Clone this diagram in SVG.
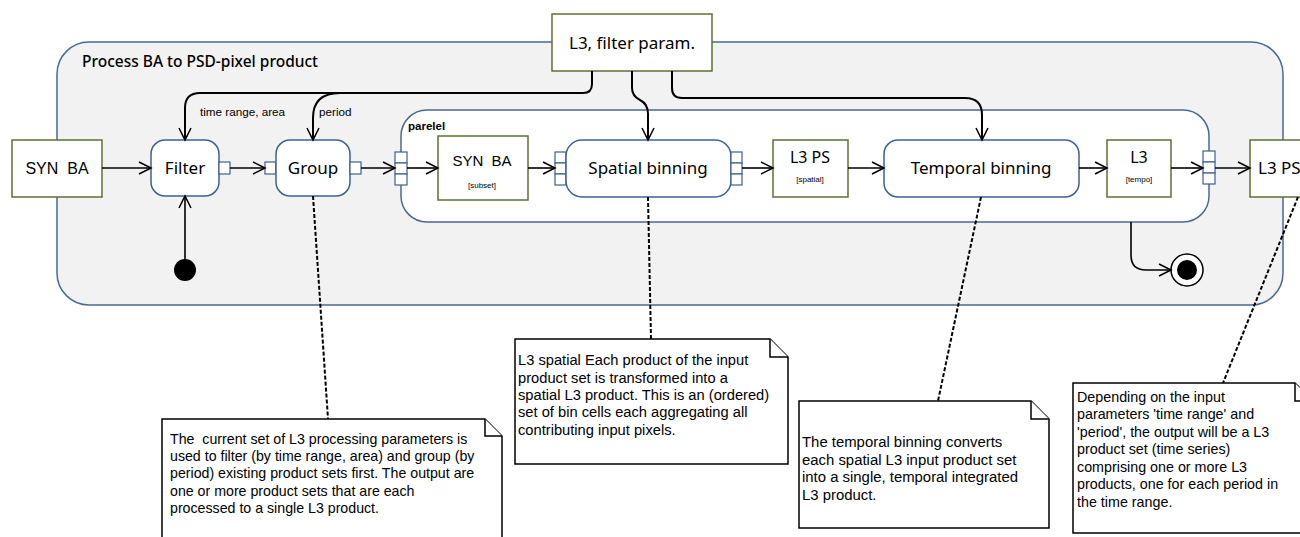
<svg xmlns="http://www.w3.org/2000/svg" width="1300" height="537" viewBox="0 0 1300 537">
<defs>
<marker id="arr" markerUnits="userSpaceOnUse" markerWidth="16" markerHeight="14" refX="13" refY="7" orient="auto">
<path d="M1,1 L13,7 L1,13" fill="none" stroke="#000" stroke-width="1.5"/>
</marker>
<style>
.cont{fill:#f2f2f2;stroke:#4a6a94;stroke-width:1.5}
.region{fill:#fff;stroke:#4a6a94;stroke-width:1.5}
.act{fill:#fff;stroke:#3f6091;stroke-width:1.5}
.obj{fill:#fff;stroke:#5d7033;stroke-width:1.5}
.pin{fill:#fff;stroke:#3f6091;stroke-width:1.2}
.flow{fill:none;stroke:#000;stroke-width:1.6;marker-end:url(#arr)}
.flowthick{fill:none;stroke:#000;stroke-width:2;marker-end:url(#arr)}
.anchor{fill:none;stroke:#000;stroke-width:2;stroke-dasharray:4 2}
.note{fill:#fff;stroke:#000;stroke-width:1.5}
.lbl{font-family:"Noto Sans","Open Sans",sans-serif;fill:#000;text-anchor:middle}
.small{font-family:"Liberation Sans",Arial,sans-serif;fill:#000}
.ntxt{font-family:"Liberation Sans",Arial,sans-serif;fill:#000}
</style>
</defs>

<g id="container">
<rect class="cont" x="57" y="42" width="1226" height="263" rx="32"/>
<text x="82" y="67" font-family="Noto Sans,sans-serif" font-size="15.5" font-weight="500">Process BA to PSD-pixel product</text>
</g>

<g id="parallel-region">
<rect class="region" x="401" y="110" width="808" height="112" rx="26"/>
<text x="408" y="130" class="small" font-size="11.5" font-weight="bold">parelel</text>
</g>

<g id="l3-filter-param">
<rect class="obj" x="552" y="14" width="160" height="57"/>
<text class="lbl" x="632" y="49" font-size="17">L3, filter param.</text>
</g>

<g id="syn-ba-in">
<rect class="obj" x="12" y="140" width="90" height="57"/>
<text x="57" y="174" class="small" font-size="16" text-anchor="middle" xml:space="preserve">SYN  BA</text>
</g>

<g id="filter">
<rect class="act" x="151" y="140" width="68" height="56" rx="14"/>
<text class="lbl" x="185" y="174" font-size="17">Filter</text>
<rect class="pin" x="219" y="162" width="11" height="12"/>
</g>

<g id="group">
<rect class="pin" x="265" y="162" width="11" height="12"/>
<rect class="act" x="276" y="140" width="74" height="56" rx="14"/>
<text class="lbl" x="313" y="174" font-size="17">Group</text>
<rect class="pin" x="350" y="162" width="11" height="12"/>
</g>

<g id="region-in-pin">
<rect class="pin" x="395" y="152" width="12" height="11"/>
<rect class="pin" x="395" y="163" width="12" height="11"/>
<rect class="pin" x="395" y="174" width="12" height="11"/>
</g>

<g id="syn-ba-subset">
<rect class="obj" x="438" y="136" width="90" height="64"/>
<text x="482" y="166" class="small" font-size="15" text-anchor="middle" xml:space="preserve">SYN  BA</text>
<text x="482" y="188" class="small" font-size="8" text-anchor="middle">[subset]</text>
</g>

<g id="spatial-binning">
<rect class="pin" x="555" y="152" width="11" height="11"/>
<rect class="pin" x="555" y="163" width="11" height="11"/>
<rect class="pin" x="555" y="174" width="11" height="11"/>
<rect class="act" x="566" y="140" width="165" height="57" rx="16"/>
<text class="lbl" x="648" y="174" font-size="17">Spatial binning</text>
<rect class="pin" x="731" y="152" width="11" height="11"/>
<rect class="pin" x="731" y="163" width="11" height="11"/>
<rect class="pin" x="731" y="174" width="11" height="11"/>
</g>

<g id="l3-ps-spatial">
<rect class="obj" x="773" y="140" width="75" height="57"/>
<text class="lbl" x="810" y="163" font-size="16">L3 PS</text>
<text x="810" y="182" class="small" font-size="8" text-anchor="middle">[spatial]</text>
</g>

<g id="temporal-binning">
<rect class="act" x="884" y="140" width="195" height="57" rx="14"/>
<text class="lbl" x="981" y="174" font-size="17">Temporal binning</text>
</g>

<g id="l3-tempo">
<rect class="obj" x="1107" y="140" width="64" height="57"/>
<text class="lbl" x="1139" y="163" font-size="16">L3</text>
<text x="1139" y="182" class="small" font-size="8" text-anchor="middle">[tempo]</text>
</g>

<g id="region-out-pin">
<rect class="pin" x="1203" y="151" width="12" height="11"/>
<rect class="pin" x="1203" y="162" width="12" height="11"/>
<rect class="pin" x="1203" y="173" width="12" height="11"/>
</g>

<g id="l3-ps-out">
<rect class="obj" x="1250" y="140" width="70" height="57"/>
<text x="1258" y="174" font-family="Noto Sans,sans-serif" font-size="17">L3 PS</text>
</g>

<g id="initial-node">
<circle cx="185" cy="270" r="11" fill="#000"/>
</g>

<g id="final-node">
<circle cx="1187" cy="270" r="16" fill="#fff" stroke="#000" stroke-width="1.5"/>
<circle cx="1187" cy="270" r="10" fill="#000"/>
</g>

<g id="connectors">
<path class="flowthick" d="M592,71 V84 Q592,93 583,93 H200 Q185,93 185,108 V140"/>
<path class="flowthick" d="M340,93 Q313,93 313,118 V140"/>
<path class="flowthick" d="M632,71 V88 Q632,96 640,100 Q648,104 648,114 V140"/>
<path class="flowthick" d="M672,71 V88 Q672,98 682,98 H965 Q982,98 982,115 V140"/>
<path class="flow" d="M102,168 H151"/>
<path class="flow" d="M230,168 H265"/>
<path class="flow" d="M361,168 H395"/>
<path class="flow" d="M407,168 H438"/>
<path class="flow" d="M528,168 H555"/>
<path class="flow" d="M742,168 H773"/>
<path class="flow" d="M848,168 H884"/>
<path class="flow" d="M1079,168 H1107"/>
<path class="flow" d="M1171,168 H1203"/>
<path class="flow" d="M1215,168 H1250"/>
<path class="flow" d="M185,259 V196"/>
<path class="flow" d="M1131,222 V255 Q1131,270 1146,270 H1171"/>
<path class="anchor" d="M313,196 L328,419"/>
<path class="anchor" d="M648,197 L651,339"/>
<path class="anchor" d="M981,197 L938,401"/>
<path class="anchor" d="M1298,197 L1223,383"/>
</g>

<g id="note-group">
<path class="note" d="M162,545 V419 H485 L502,436 V545"/>
<path class="note" d="M485,419 V436 H502" fill="none"/>
<text class="ntxt" font-size="14.2" xml:space="preserve"><tspan x="170" y="444">The  current set of L3 processing parameters is</tspan><tspan x="170" y="461">used to filter (by time range, area) and group (by</tspan><tspan x="170" y="478">period) existing product sets first. The output are</tspan><tspan x="170" y="496">one or more product sets that are each</tspan><tspan x="170" y="513">processed to a single L3 product.</tspan></text>
</g>

<g id="note-spatial">
<path class="note" d="M515,339 H770 L788,357 V464 H515 Z"/>
<path class="note" d="M770,339 V357 H788" fill="none"/>
<text class="ntxt" font-size="14.7"><tspan x="518" y="365">L3 spatial Each product of the input</tspan><tspan x="518" y="383">product set is transformed into a</tspan><tspan x="518" y="400">spatial L3 product. This is an (ordered)</tspan><tspan x="518" y="417">set of bin cells each aggregating all</tspan><tspan x="518" y="435">contributing input pixels.</tspan></text>
</g>

<g id="note-temporal">
<path class="note" d="M799,401 H1031 L1049,419 V528 H799 Z"/>
<path class="note" d="M1031,401 V419 H1049" fill="none"/>
<text class="ntxt" font-size="14.9"><tspan x="802" y="447">The temporal binning converts</tspan><tspan x="802" y="465">each spatial L3 input product set</tspan><tspan x="802" y="482">into a single, temporal integrated</tspan><tspan x="802" y="500">L3 product.</tspan></text>
</g>

<g id="note-output">
<path class="note" d="M1073,383 H1295 L1313,401 V533 H1073 Z"/>
<path class="note" d="M1295,383 V401 H1313" fill="none"/>
<text class="ntxt" font-size="14.3"><tspan x="1077" y="402">Depending on the input</tspan><tspan x="1077" y="419">parameters 'time range' and</tspan><tspan x="1077" y="437">'period', the output will be a L3</tspan><tspan x="1077" y="454">product set (time series)</tspan><tspan x="1077" y="472">comprising one or more L3</tspan><tspan x="1077" y="489">products, one for each period in</tspan><tspan x="1077" y="507">the time range.</tspan></text>
</g>

<g id="edge-labels">
<text x="200" y="116" class="small" font-size="11.7">time range, area</text>
<text x="319" y="116" class="small" font-size="11.7">period</text>
</g>
</svg>
